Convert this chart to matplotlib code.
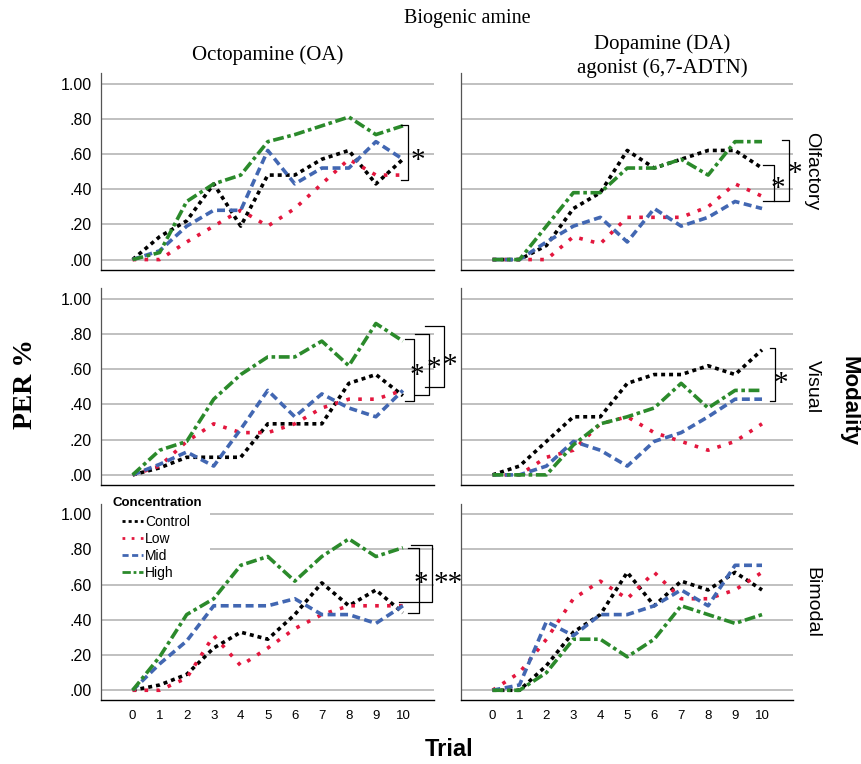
import matplotlib
matplotlib.use("Agg")
import matplotlib.pyplot as plt
from matplotlib.patches import Rectangle
from matplotlib.lines import Line2D
from matplotlib.transforms import offset_copy

# ---------------- data ----------------
trials = list(range(11))
conc_labels = ["Control", "Low", "Mid", "High"]
amine_titles = ["Octopamine (OA)", "Dopamine (DA)\nagonist (6,7-ADTN)"]
modalities = ["Olfactory", "Visual", "Bimodal"]
ytick_vals = [0.0, 0.2, 0.4, 0.6, 0.8, 1.0]
ytick_labels = [".00", ".20", ".40", ".60", ".80", "1.00"]

# Octopamine - Olfactory
oa_olf_control = [0, 0.13, 0.22, 0.43, 0.19, 0.48, 0.48, 0.57, 0.62, 0.43, 0.57]
oa_olf_low     = [0, 0, 0.10, 0.19, 0.28, 0.19, 0.29, 0.43, 0.57, 0.48, 0.48]
oa_olf_mid     = [0, 0.05, 0.19, 0.28, 0.28, 0.62, 0.43, 0.52, 0.52, 0.67, 0.57]
oa_olf_high    = [0, 0.04, 0.33, 0.43, 0.48, 0.67, 0.71, 0.76, 0.81, 0.71, 0.76]
# Dopamine agonist - Olfactory
da_olf_control = [0, 0, 0.08, 0.29, 0.38, 0.62, 0.52, 0.57, 0.62, 0.62, 0.52]
da_olf_low     = [0, 0, 0, 0.13, 0.09, 0.24, 0.24, 0.24, 0.30, 0.43, 0.36]
da_olf_mid     = [0, 0, 0.10, 0.19, 0.24, 0.10, 0.29, 0.19, 0.24, 0.33, 0.29]
da_olf_high    = [0, 0, 0.19, 0.38, 0.38, 0.52, 0.52, 0.57, 0.48, 0.67, 0.67]
# Octopamine - Visual
oa_vis_control = [0, 0.04, 0.10, 0.10, 0.10, 0.29, 0.29, 0.29, 0.52, 0.57, 0.45]
oa_vis_low     = [0, 0.05, 0.19, 0.29, 0.24, 0.24, 0.29, 0.38, 0.43, 0.43, 0.48]
oa_vis_mid     = [0, 0.06, 0.13, 0.05, 0.26, 0.48, 0.33, 0.46, 0.38, 0.33, 0.48]
oa_vis_high    = [0, 0.14, 0.19, 0.43, 0.57, 0.67, 0.67, 0.76, 0.62, 0.86, 0.76]
# Dopamine agonist - Visual
da_vis_control = [0, 0.05, 0.19, 0.33, 0.33, 0.52, 0.57, 0.57, 0.62, 0.57, 0.71]
da_vis_low     = [0, 0, 0.10, 0.14, 0.29, 0.33, 0.24, 0.19, 0.14, 0.19, 0.29]
da_vis_mid     = [0, 0, 0.05, 0.19, 0.14, 0.05, 0.19, 0.24, 0.33, 0.43, 0.43]
da_vis_high    = [0, 0, 0, 0.17, 0.29, 0.33, 0.38, 0.52, 0.38, 0.48, 0.48]
# Octopamine - Bimodal
oa_bim_control = [0, 0.03, 0.09, 0.24, 0.33, 0.29, 0.43, 0.61, 0.48, 0.57, 0.44]
oa_bim_low     = [0, 0, 0.07, 0.31, 0.14, 0.24, 0.35, 0.43, 0.48, 0.48, 0.48]
oa_bim_mid     = [0, 0.15, 0.28, 0.48, 0.48, 0.48, 0.52, 0.43, 0.43, 0.38, 0.48]
oa_bim_high    = [0, 0.19, 0.43, 0.52, 0.71, 0.76, 0.62, 0.76, 0.86, 0.76, 0.81]
# Dopamine agonist - Bimodal
da_bim_control = [0, 0, 0.14, 0.33, 0.43, 0.67, 0.48, 0.62, 0.57, 0.67, 0.57]
da_bim_low     = [0, 0.10, 0.29, 0.52, 0.62, 0.52, 0.67, 0.52, 0.52, 0.57, 0.67]
da_bim_mid     = [0, 0.03, 0.39, 0.31, 0.43, 0.43, 0.48, 0.57, 0.48, 0.71, 0.71]
da_bim_high    = [0, 0, 0.10, 0.29, 0.29, 0.19, 0.29, 0.48, 0.43, 0.38, 0.43]

panels = [
    [[oa_olf_control, oa_olf_low, oa_olf_mid, oa_olf_high],
     [da_olf_control, da_olf_low, da_olf_mid, da_olf_high]],
    [[oa_vis_control, oa_vis_low, oa_vis_mid, oa_vis_high],
     [da_vis_control, da_vis_low, da_vis_mid, da_vis_high]],
    [[oa_bim_control, oa_bim_low, oa_bim_mid, oa_bim_high],
     [da_bim_control, da_bim_low, da_bim_mid, da_bim_high]],
]

# significance brackets: (row, col, x_arm_top, x_arm_bottom, x_vertical, y_top, y_bottom, label, label_x, label_y)
brackets = [
    (0, 0, 9.92, 9.92, 10.18, 0.767, 0.45, "*", 10.55, 0.59),
    (0, 1, 10.02, 10.02, 10.43, 0.54, 0.33, "*", 10.60, 0.43),
    (0, 1, 10.75, 10.43, 11.0, 0.68, 0.33, "*", 11.22, 0.52),
    (1, 0, 10.07, 10.07, 10.40, 0.774, 0.419, "*", 10.52, 0.594),
    (1, 0, 10.43, 10.43, 10.96, 0.80, 0.453, "*", 11.13, 0.632),
    (1, 0, 10.80, 10.80, 11.51, 0.845, 0.50, "*", 11.72, 0.65),
    (1, 1, 10.29, 10.29, 10.50, 0.72, 0.42, "*", 10.70, 0.55),
    (2, 0, 10.18, 10.18, 10.61, 0.807, 0.4375, "*", 10.66, 0.636),
    (2, 0, 10.31, 9.87, 11.07, 0.826, 0.503, "**", 11.66, 0.636),
]

colors = ["#000000", "#e3173e", "#4267b2", "#2b8a2b"]
dash_styles = [(0, (1.1, 1.1)), (0, (1.0, 2.3)), (0, (2.2, 1.25)), (0, (3.0, 1.0, 1.0, 1.0))]

SANS = "Liberation Sans"
SERIF = "Liberation Serif"

W, H = 862, 764
fig = plt.figure(figsize=(W / 100, H / 100), dpi=100)

col_left = [101, 461]
col_width = [333, 332]
row_top = [73, 288.3, 503.7]
row_h = 196.6
xlim = (-1.17, 11.15)
ylim = (-0.057, 1.06)

axes = [[None, None] for _ in range(3)]
for r in range(3):
    for c in range(2):
        ax = fig.add_axes([col_left[c] / W, 1 - (row_top[r] + row_h) / H, col_width[c] / W, row_h / H])
        axes[r][c] = ax
        ax.set_xlim(*xlim)
        ax.set_ylim(*ylim)
        ax.set_axisbelow(True)
        ax.yaxis.grid(True, color="#b5b5b5", lw=1.2)
        ax.set_yticks(ytick_vals)
        ax.set_xticks(trials)
        for s in ["top", "right"]:
            ax.spines[s].set_visible(False)
        ax.spines["left"].set_color("#555555")
        ax.spines["left"].set_linewidth(0.9)
        ax.spines["bottom"].set_color("#000000")
        ax.spines["bottom"].set_linewidth(1.0)
        ax.tick_params(length=0)
        if c == 0:
            ax.set_yticklabels(ytick_labels, fontsize=11.5, family=SANS)
            ax.tick_params(axis="y", pad=6.5)
        else:
            ax.set_yticklabels([])
        if r == 2:
            ax.set_xticklabels([str(t) for t in trials], fontsize=9.5, family=SANS)
            ax.tick_params(axis="x", pad=7)
        else:
            ax.set_xticklabels([])
        for k, ser in enumerate(panels[r][c]):
            ax.plot(trials, ser, color=colors[k], lw=2.6, linestyle=dash_styles[k],
                    zorder=3, label=conc_labels[k], clip_on=False)

# brackets
for (r, c, xat, xab, xv, yt, yb, lab, lx, ly) in brackets:
    ax = axes[r][c]
    ax.plot([xat, xv, xv, xab], [yt, yt, yb, yb], color="black", lw=0.9, clip_on=False, zorder=4)
    tr = offset_copy(ax.transData, fig=fig, x=0, y=-5.5, units="dots")
    ax.text(lx, ly, lab, fontsize=21, family=SERIF, ha="center", va="center", clip_on=False,
            transform=tr)

# legend in bottom-left panel
axL = axes[2][0]
axL.add_patch(Rectangle((0.0, (700.3 - 582) / row_h), (210 - 101) / col_width[0], (582 - 503.7) / row_h,
                        transform=axL.transAxes, facecolor="white", edgecolor="none", zorder=1.5,
                        clip_on=False))
handles = [Line2D([], [], color=colors[k], lw=2.0, linestyle=dash_styles[k]) for k in range(4)]
leg = axL.legend(handles, conc_labels, loc="upper left",
                 bbox_to_anchor=((121.7 - 101) / col_width[0], (700.3 - 514.5) / row_h),
                 frameon=False, borderpad=0, borderaxespad=0, handlelength=1.55, handletextpad=0.12,
                 labelspacing=0.22, prop={"family": SANS, "size": 10})
leg.set_zorder(5)
axL.text((112.7 - 101) / col_width[0], (700.3 - 502.7) / row_h, "Concentration", transform=axL.transAxes,
         fontsize=9.5, fontweight="bold", family=SANS, ha="left", va="center")

# titles
fig.text(467 / W, 1 - 18 / H, "Biogenic amine", fontsize=14.5, family=SERIF, ha="center", va="center")
fig.text(268 / W, 1 - 55 / H, amine_titles[0], fontsize=15, family=SERIF, ha="center", va="center")
fig.text(662 / W, 1 - 56 / H, amine_titles[1], fontsize=15, family=SERIF, ha="center", va="center",
         linespacing=1.25)

# modality labels
for r in range(3):
    fig.text(812 / W, 1 - (row_top[r] + row_h / 2) / H, modalities[r], rotation=-90, fontsize=14,
             family=SANS, ha="center", va="center")
fig.text(849 / W, 1 - 401 / H, "Modality", rotation=-90, fontsize=16, fontweight="bold", family=SANS,
         ha="center", va="center")
fig.text(26 / W, 1 - 384 / H, "PER %", rotation=90, fontsize=20, fontweight="bold", family=SERIF,
         ha="center", va="center")
fig.text(449 / W, 1 - 750 / H, "Trial", fontsize=17, fontweight="bold", family=SANS, ha="center", va="center")

fig.savefig("out.png", dpi=100)
